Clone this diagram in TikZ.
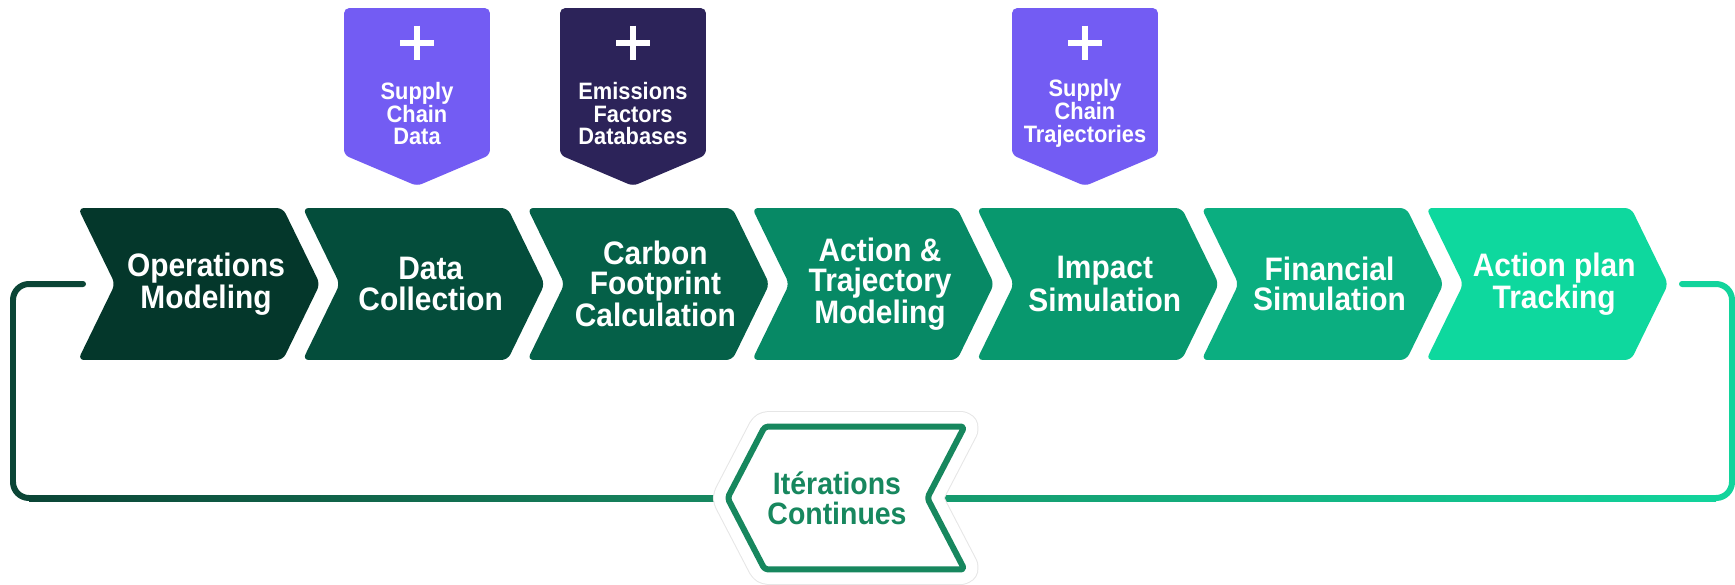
\documentclass[tikz,border=0pt]{standalone}
\usepackage{fontspec}
\setmainfont{Liberation Sans}[FakeStretch=0.92]
\usepackage{tikz}
\usetikzlibrary{shapes.symbols, calc, backgrounds}

\definecolor{stepone}{HTML}{04372B}
\definecolor{steptwo}{HTML}{044D3B}
\definecolor{stepthree}{HTML}{056048}
\definecolor{stepfour}{HTML}{078965}
\definecolor{stepfive}{HTML}{08986E}
\definecolor{stepsix}{HTML}{0BAE80}
\definecolor{stepseven}{HTML}{0ED89E}
\definecolor{tagpurple}{HTML}{735CF3}
\definecolor{tagnavy}{HTML}{2C2359}
\definecolor{loopdark}{HTML}{0B4536}
\definecolor{loopmidl}{HTML}{178A62}
\definecolor{loopmidr}{HTML}{15986C}
\definecolor{loopbright}{HTML}{12D49C}
\definecolor{itergreen}{HTML}{17875E}
\definecolor{halo}{HTML}{E6E6E6}

\begin{document}
\begin{tikzpicture}[
  x=0.02cm, y=-0.02cm,
  chevron/.style={signal, signal from=west, signal to=east, signal pointer angle=128, minimum width=4.84cm, minimum height=3.04cm, inner sep=0pt, rounded corners=3.5pt},
  steptext/.style={text=white, font=\fontsize{18.5}{17.2}\selectfont\bfseries, align=center, xshift=0.14cm},
  tag/.style={signal, signal to=south, signal pointer angle=134, minimum width=2.92cm, minimum height=2.94cm, inner sep=0pt, rounded corners=3pt},
  tagtext/.style={text=white, font=\fontsize{13.5}{13}\selectfont\bfseries, align=center},
  plus/.style={draw=white, line width=0.12cm},
  loopline/.style={line width=0.12cm, rounded corners=0.32cm, line cap=round},
  iterbox/.style={signal, signal to=west, signal from=east, signal pointer angle=125, minimum width=4.74cm, minimum height=2.86cm, inner sep=0pt, fill=white, draw=itergreen, line width=0.12cm, rounded corners=2pt, line join=round,
    preaction={draw=halo, line width=0.62cm, line join=round},
    preaction={draw=white, line width=0.58cm, line join=round}},
  itertext/.style={text=itergreen, font=\fontsize{17.6}{17}\selectfont\bfseries, align=center, xshift=-0.18cm}
]
  \useasboundingbox (0,0) rectangle (1735,585);

  % process steps
  \node[chevron, fill=stepone] (ops) at (199,284) {};
  \node[chevron, fill=steptwo] (data) at (423.7,284) {};
  \node[chevron, fill=stepthree] (carbon) at (648.4,284) {};
  \node[chevron, fill=stepfour] (action) at (873.1,284) {};
  \node[chevron, fill=stepfive] (impact) at (1097.8,284) {};
  \node[chevron, fill=stepsix] (finance) at (1322.5,284) {};
  \node[chevron, fill=stepseven] (tracking) at (1547.2,284) {};

  \node[steptext] (opsT) at (ops.center) {Operations\\Modeling};
  \node[steptext] (dataT) at (data.center) {Data\\Collection};
  \node[steptext] (carbonT) at (carbon.center) {Carbon\\Footprint\\Calculation};
  \node[steptext] (actionT) at (action.center) {Action \&\\Trajectory\\Modeling};
  \node[steptext] (impactT) at (impact.center) {Impact\\Simulation};
  \node[steptext] (financeT) at (finance.center) {Financial\\Simulation};
  \node[steptext] (trackingT) at (tracking.center) {Action plan\\Tracking};

  % inputs
  \node[tag, fill=tagpurple] (scdata) at (417,81.5) {};
  \node[tag, fill=tagnavy] (efdb) at (633,81.5) {};
  \node[tag, fill=tagpurple] (sctraj) at (1085,81.5) {};

  \foreach \t in {scdata, efdb, sctraj}
    \draw[plus] ($(\t.north)+(-17,35)$) -- ++(34,0) ($(\t.north)+(0,18)$) -- ++(0,34);

  \node[tagtext] (scdataT) at ($(scdata.north)+(0,106)$) {Supply\\Chain\\Data};
  \node[tagtext] (efdbT) at ($(efdb.north)+(0,106)$) {Emissions\\Factors\\Databases};
  \node[tagtext] (sctrajT) at ($(sctraj.north)+(0,106)$) {Supply\\Chain\\Trajectories};

  % loop back
  \node[iterbox] (iter) at (846,498) {};
  \node[itertext] (iterT) at (iter.center) {Itérations\\Continues};

  \coordinate (inL) at (83,284);
  \coordinate (outR) at (1682,284);

  \begin{scope}[on background layer]
    \fill[white] (0,0) rectangle (1735,585);
    \draw[loopline, loopdark] (inL) -| (13,498) -- (iter.west);
    \draw[loopline, loopbright] (outR) -| (1732,498) -- (iter.east);
    \shade[left color=loopdark, right color=loopmidl] (29,495) rectangle (735,501);
    \shade[left color=loopmidr, right color=loopbright] (925,495) rectangle (1716,501);
  \end{scope}
\end{tikzpicture}
\end{document}
